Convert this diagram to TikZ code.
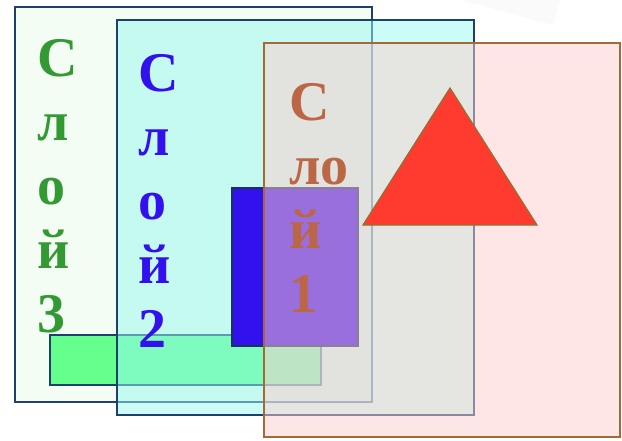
\documentclass[tikz,border=0pt]{standalone}
\usepackage{fontspec}
\setmainfont{Liberation Serif}
\usetikzlibrary{backgrounds}

\definecolor{paperthree}{RGB}{243,253,243}
\definecolor{papertwo}{RGB}{153,249,241}
\definecolor{paperone}{RGB}{255,206,206}
\definecolor{navyline}{RGB}{28,64,112}
\definecolor{brownline}{RGB}{165,105,55}
\definecolor{greentext}{RGB}{51,153,51}
\definecolor{bluetext}{RGB}{51,17,238}
\definecolor{browntext}{RGB}{187,102,68}
\definecolor{greenbox}{RGB}{100,255,140}
\definecolor{redshape}{RGB}{255,59,47}
\definecolor{oliveline}{RGB}{150,110,50}

\begin{document}
\begin{tikzpicture}[x=1pt,y=-1pt,
    layertext/.style={anchor=base west,inner sep=0pt,align=left,
      font=\bfseries\fontsize{56}{64}\selectfont}]
      \useasboundingbox (0,0) rectangle (622,440);
      % faint shadow at the top
      \fill[black!2] (460,0) -- (560,0) -- (553,25) -- cycle;
      % layer 3
      \begin{scope}[every node/.style={layertext,text=greentext}]
        \filldraw[fill=paperthree, draw=navyline, line width=1.5pt] (15,7) rectangle (372,402);
        \filldraw[fill=greenbox, draw=navyline, line width=1.5pt] (50,335) rectangle (321,385);
        \node (labthree) at (37,332) {С\\л\\о\\й\\3};
      \end{scope}
      % layer 2
      \begin{scope}[every node/.style={layertext,text=bluetext}]
        \filldraw[fill=papertwo, fill opacity=0.5, draw=navyline, line width=1.5pt] (117,20) rectangle (474,415);
        \filldraw[fill=bluetext, draw=navyline!80!black, line width=1.5pt] (232,188) rectangle (358,346);
        \node (labtwo) at (138,347) {С\\л\\о\\й\\2};
      \end{scope}
      % layer 1
      \begin{scope}[every node/.style={layertext,text=browntext}]
        \fill[paperone, fill opacity=0.5] (264,43) rectangle (620,437);
        \filldraw[fill=redshape, draw=oliveline, line width=1.2pt] (450,88) -- (537,225) -- (363,225) -- cycle;
        \node (labone) at (289,312) {С\\ло\\й\\1};
        \draw[brownline, line width=1.5pt] (264,43) rectangle (620,437);
      \end{scope}
    \end{tikzpicture}
\end{document}
